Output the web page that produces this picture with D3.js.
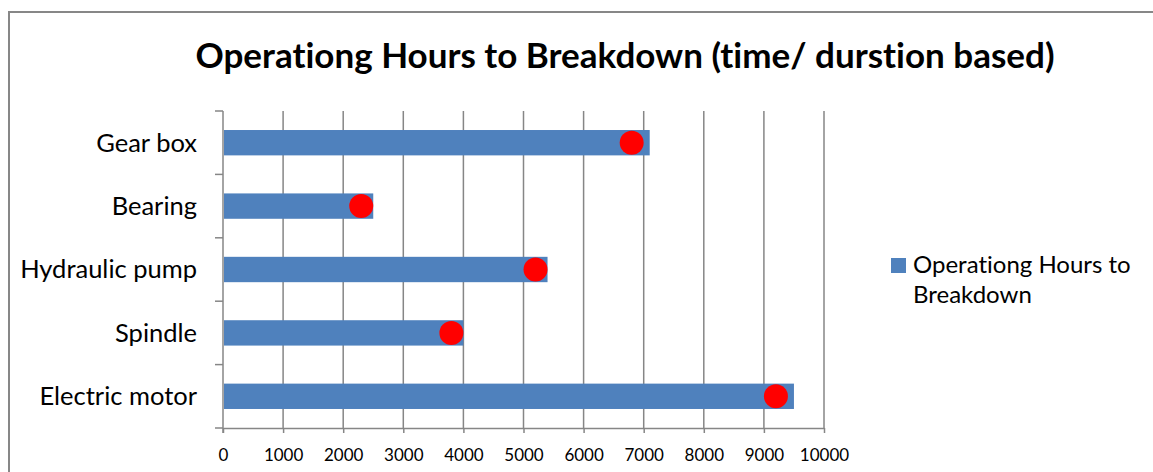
<!DOCTYPE html>
<html>
<head>
<meta charset="utf-8">
<script src="https://cdn.jsdelivr.net/npm/d3@7"></script>
<style>
  html, body { margin: 0; padding: 0; background: #fff; }
  svg { display: block; }
  text { font-variant-ligatures: none; font-feature-settings: "liga" 0, "clig" 0; }
</style>
</head>
<body>
<svg id="chart" width="1153" height="472"></svg>
<script>
// Components, listed top to bottom as they appear on the axis
const categories = ["Gear box", "Bearing", "Hydraulic pump", "Spindle", "Electric motor"];
// Bar series: operating hours to breakdown
const hoursToBreakdown = [7100, 2500, 5400, 4000, 9500];
// Marker series drawn on top of the bars
const markerHours = [6800, 2300, 5200, 3800, 9200];
const xTicks = [0, 1000, 2000, 3000, 4000, 5000, 6000, 7000, 8000, 9000, 10000];
const titleText = "Operationg Hours to Breakdown (time/ durstion based)";
const legendLines = ["Operationg Hours to", "Breakdown"];

const svg = d3.select("#chart");
const W = 1153, H = 472;
const font = "Lato, 'Open Sans', sans-serif";
const gridColor = "#868686";

// chart frame
svg.append("rect")
  .attr("x", 9).attr("y", 12)
  .attr("width", W + 10).attr("height", H + 10)
  .attr("fill", "#fff").attr("stroke", "#878787").attr("stroke-width", 2);

const plot = { left: 223, right: 824, top: 111, bottom: 428 };

const x = d3.scaleLinear().domain([0, 10000]).range([plot.left, plot.right]);
const y = d3.scaleBand().domain(categories)
  .range([plot.top, plot.bottom]).paddingInner(0.6).paddingOuter(0.3);

// title
svg.append("text")
  .attr("x", 625).attr("y", 68)
  .attr("text-anchor", "middle")
  .attr("font-family", font).attr("font-weight", "bold").attr("font-size", 35)
  .attr("fill", "#000")
  .text(titleText);

// vertical gridlines
svg.append("g").selectAll("line")
  .data(xTicks.filter(d => d > 0))
  .join("line")
  .attr("x1", d => x(d)).attr("x2", d => x(d))
  .attr("y1", plot.top).attr("y2", plot.bottom)
  .attr("stroke", gridColor).attr("stroke-width", 1.5);

// bottom axis
const xAxis = d3.axisBottom(x).tickValues(xTicks).tickSizeInner(5).tickSizeOuter(0).tickPadding(16)
  .tickFormat(d3.format("d"));
const gx = svg.append("g").attr("transform", `translate(0,${plot.bottom})`).call(xAxis);
gx.select(".domain").attr("stroke", gridColor).attr("stroke-width", 1.5);
gx.selectAll(".tick line").attr("stroke", gridColor).attr("stroke-width", 1.5);
gx.selectAll(".tick text")
  .attr("font-family", font).attr("font-size", 17).attr("fill", "#000");

// left axis: tick marks sit on band boundaries
const boundaries = d3.range(categories.length + 1).map(i => plot.top + i * (plot.bottom - plot.top) / categories.length);
svg.append("g").selectAll("line")
  .data(boundaries)
  .join("line")
  .attr("x1", plot.left - 8).attr("x2", plot.left)
  .attr("y1", d => d).attr("y2", d => d)
  .attr("stroke", gridColor).attr("stroke-width", 1.5);
svg.append("line")
  .attr("x1", plot.left).attr("x2", plot.left)
  .attr("y1", plot.top).attr("y2", plot.bottom + 5)
  .attr("stroke", gridColor).attr("stroke-width", 1.5);

svg.append("g").selectAll("text")
  .data(categories)
  .join("text")
  .attr("x", plot.left - 26)
  .attr("y", d => y(d) + y.bandwidth() / 2)
  .attr("dy", "0.35em")
  .attr("text-anchor", "end")
  .attr("font-family", font).attr("font-size", 25.5).attr("fill", "#000")
  .text(d => d);

// bars
svg.append("g").selectAll("rect")
  .data(categories.map((c, i) => ({ c, v: hoursToBreakdown[i] })))
  .join("rect")
  .attr("x", x(0) + 1)
  .attr("y", d => y(d.c))
  .attr("width", d => x(d.v) - x(0) - 1)
  .attr("height", y.bandwidth())
  .attr("fill", "#4F81BD");

// markers
svg.append("g").selectAll("circle")
  .data(categories.map((c, i) => ({ c, v: markerHours[i] })))
  .join("circle")
  .attr("cx", d => x(d.v))
  .attr("cy", d => y(d.c) + y.bandwidth() / 2)
  .attr("r", 12)
  .attr("fill", "#FF0000");

// legend
const legend = svg.append("g");
legend.append("rect")
  .attr("x", 891).attr("y", 258).attr("width", 15).attr("height", 15)
  .attr("fill", "#4F81BD");
legend.selectAll("text")
  .data(legendLines)
  .join("text")
  .attr("x", 913)
  .attr("y", (d, i) => 273 + i * 30)
  .attr("font-family", font).attr("font-size", 24).attr("fill", "#000")
  .text(d => d);
</script>
</body>
</html>
